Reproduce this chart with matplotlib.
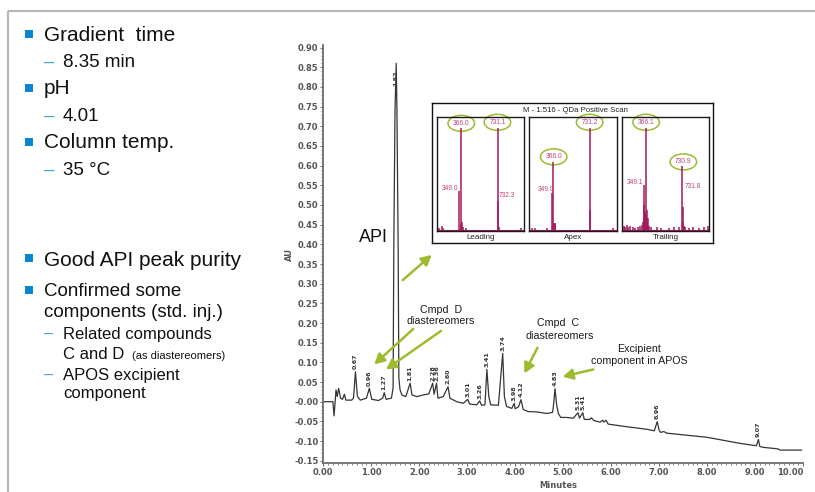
import numpy as np
import matplotlib
matplotlib.use("Agg")
import matplotlib.pyplot as plt
from matplotlib.patches import Rectangle, Ellipse

W, H, DPI = 815, 492, 100

# ---------------- chromatogram (UV trace) ----------------
trace_time = [0.00, 0.20, 0.225, 0.265, 0.29, 0.32, 0.36, 0.40, 0.44, 0.47, 0.59, 0.63,
              0.67, 0.71, 0.77, 0.90, 0.96, 1.01, 1.15, 1.24, 1.27, 1.31, 1.42, 1.455,
              1.47, 1.495, 1.52, 1.535, 1.56, 1.575, 1.60, 1.64, 1.72, 1.81, 1.85, 1.95,
              2.08, 2.20, 2.28, 2.31, 2.36, 2.39, 2.50, 2.60, 2.64, 2.78, 2.92, 3.01,
              3.05, 3.20, 3.26, 3.30, 3.37, 3.41, 3.45, 3.49, 3.65, 3.74, 3.775, 3.82,
              3.93, 3.98, 4.00, 4.07, 4.12, 4.17, 4.27, 4.45, 4.66, 4.78, 4.80, 4.83,
              4.865, 4.90, 4.95, 5.07, 5.21, 5.31, 5.34, 5.41, 5.44, 5.56, 5.59, 5.64,
              5.77, 5.82, 5.85, 5.89, 5.94, 6.32, 6.74, 6.90, 6.96, 7.00, 7.03, 7.10,
              7.16, 8.00, 8.69, 9.03, 9.07, 9.10, 9.17, 9.48, 9.52, 9.97]
trace_au = [0.000, 0.000, -0.036, 0.030, 0.013, 0.034, 0.009, 0.006, 0.019, 0.004, 0.004, 0.009,
            0.076, 0.014, 0.004, 0.009, 0.034, 0.006, 0.003, 0.009, 0.023, 0.006, 0.009, 0.035,
            0.400, 0.740, 0.860, 0.740, 0.400, 0.060, 0.030, 0.017, 0.013, 0.047, 0.017, 0.013,
            0.017, 0.020, 0.047, 0.019, 0.047, 0.009, 0.013, 0.038, 0.009, 0.000, -0.004, 0.006,
            -0.006, -0.008, 0.002, -0.009, -0.008, 0.082, 0.013, -0.008, -0.009, 0.123, 0.013, -0.012,
            -0.017, -0.004, -0.018, -0.013, 0.005, -0.020, -0.025, -0.026, -0.030, -0.027, -0.008, 0.033,
            -0.008, -0.030, -0.040, -0.040, -0.042, -0.028, -0.042, -0.028, -0.045, -0.045, -0.041, -0.048,
            -0.052, -0.047, -0.052, -0.047, -0.057, -0.0635, -0.070, -0.074, -0.051, -0.072, -0.078, -0.076,
            -0.080, -0.0905, -0.106, -0.112, -0.096, -0.114, -0.116, -0.120, -0.123, -0.123]

peak_rts = [0.67, 0.96, 1.27, 1.52, 1.81, 2.28, 2.36, 2.60, 3.01, 3.26, 3.41, 3.74,
            3.98, 4.12, 4.83, 5.31, 5.41, 6.96, 9.07]

y_ticks = [0.90, 0.85, 0.80, 0.75, 0.70, 0.65, 0.60, 0.55, 0.50, 0.45, 0.40, 0.35,
           0.30, 0.25, 0.20, 0.15, 0.10, 0.05, 0.00, -0.05, -0.10, -0.15]
y_tick_labels = ["0.90", "0.85", "0.80", "0.75", "0.70", "0.65", "0.60", "0.55", "0.50",
                 "0.45", "0.40", "0.35", "0.30", "0.25", "0.20", "0.15", "0.10", "0.05",
                 "-0.00", "-0.05", "-0.10", "-0.15"]
x_ticks = [0, 1, 2, 3, 4, 5, 6, 7, 8, 9, 10]
x_tick_labels = ["0.00", "1.00", "2.00", "3.00", "4.00", "5.00", "6.00", "7.00",
                 "8.00", "9.00", "10.00"]

# ---------------- QDa mass spectra across the API peak ----------------
scan_title = "M - 1.516 - QDa Positive Scan"
scan_names = ["Leading", "Apex", "Trailing"]

leading_mz = [150, 175, 183, 349.0, 366.0, 372, 381, 388, 420, 731.1, 732.3, 745, 965]
leading_int = [2, 4, 2, 38, 100, 6, 8, 3, 2, 100, 28.5, 3, 2]

apex_mz = [150, 180, 300, 349.0, 366.0, 372, 378, 384, 731.2, 733, 960]
apex_int = [1.5, 2, 1.5, 36, 67, 7, 7, 6, 100, 20, 2]

trailing_mz = [150, 160, 175, 190, 210, 235, 260, 290, 310, 330, 340, 345, 349.1, 352, 356,
               360, 366.1, 370, 375, 380, 386, 392, 400, 420, 480, 520, 600, 650, 700,
               730.9, 731.8, 736, 745, 760, 800, 840, 900, 950, 985]
trailing_int = [4, 3, 5, 3, 4, 3, 2, 3, 4, 5, 8, 12, 44, 25, 18,
                10, 100, 15, 20, 8, 12, 5, 4, 3, 3, 2, 2, 3, 3,
                63, 23, 8, 4, 3, 2, 3, 2, 3, 4]

# (text, m/z, intensity) : circled base-peak labels and plain side labels
leading_circled = [("366.0", 370, 105), ("731.1", 730, 106)]
leading_side = [("349.0", 341, 41, "right"), ("732.3", 746, 34, "left")]
apex_circled = [("366.0", 368, 72), ("731.2", 726, 106)]
apex_side = [("349.0", 376, 40, "right")]
trailing_circled = [("366.1", 368, 106), ("730.9", 739, 67)]
trailing_side = [("349.1", 341, 47, "right"), ("731.8", 750, 43, "left")]

# ---------------- slide text ----------------
top_items = ["Gradient  time", "8.35 min", "pH", "4.01", "Column temp.", "35 °C"]
bottom_items = ["Good API peak purity", "Confirmed some", "components (std. inj.)",
                "Related compounds", "C and D", "(as diastereomers)",
                "APOS excipient", "component"]

BLUE = "#0a86cc"
DASH_BLUE = "#45a6dc"
GREEN = "#9dbb2f"
SPEC = "#a3195b"
SPEC_LBL = "#c0447e"
AXIS_GRAY = "#6e6e6e"
LBL_GRAY = "#555555"
SANS = "Liberation Sans"

fig = plt.figure(figsize=(W / DPI, H / DPI), dpi=DPI, facecolor="white")

# full-figure layer in pixel units for the slide frame and bullet text
ov = fig.add_axes([0, 0, 1, 1])
ov.set_xlim(0, W)
ov.set_ylim(H, 0)
ov.axis("off")

ov.plot([8.2, W], [11, 11], color="#b5b5b5", lw=1.5, solid_capstyle="butt")
ov.plot([8.2, 8.2], [11, H], color="#b5b5b5", lw=1.5, solid_capstyle="butt")


def bullet(y_top, text, baseline, size):
    ov.add_patch(Rectangle((25, y_top), 8, 7.7, color=BLUE, lw=0))
    ov.text(44, baseline, text, fontsize=size, family=SANS, va="baseline", color="#111111")


def dash_item(text, baseline, size, dash=True):
    if dash:
        ov.text(43.5, baseline, "\u2013", fontsize=size, family=SANS, va="baseline",
                color=DASH_BLUE)
    ov.text(63, baseline, text, fontsize=size, family=SANS, va="baseline", color="#111111")


bullet(30, top_items[0], 41, 15)
dash_item(top_items[1], 66.7, 13.5)
bullet(84, top_items[2], 94.3, 15)
dash_item(top_items[3], 120.7, 13.5)
bullet(138, top_items[4], 148.3, 15)
dash_item(top_items[5], 175, 13.5)

bullet(254, bottom_items[0], 266, 15)
bullet(286, bottom_items[1], 296, 13.5)
ov.text(44, 317.3, bottom_items[2], fontsize=13.5, family=SANS, va="baseline", color="#111111")
dash_item(bottom_items[3], 339.3, 12)
dash_item(bottom_items[4], 359, 12, dash=False)
ov.text(132, 359, bottom_items[5], fontsize=8, family=SANS, va="baseline", color="#111111")
dash_item(bottom_items[6], 380, 12)
dash_item(bottom_items[7], 398.3, 12, dash=False)

# ---------------- chromatogram axes ----------------
ax = fig.add_axes([323.3 / W, 1 - 463.3 / H, (803 - 323.3) / W, (463.3 - 45) / H])
ax.set_facecolor("none")
ax.set_xlim(0, 10)
ax.set_ylim(-0.1566, 0.9067)
for side in ("top", "right"):
    ax.spines[side].set_visible(False)
for side in ("left", "bottom"):
    ax.spines[side].set_color(AXIS_GRAY)
    ax.spines[side].set_linewidth(1.3)

tick_font = dict(fontsize=6.0, fontweight="bold", color=LBL_GRAY, family="DejaVu Sans")
ax.set_yticks(y_ticks, labels=y_tick_labels, **tick_font)
ax.set_xticks(x_ticks, labels=x_tick_labels, **tick_font)
ax.yaxis.set_minor_locator(matplotlib.ticker.MultipleLocator(0.01))
ax.xaxis.set_minor_locator(matplotlib.ticker.MultipleLocator(0.1))
ax.tick_params(which="major", direction="out", length=2.4, width=0.8, color=AXIS_GRAY, pad=1)
ax.tick_params(which="minor", direction="out", length=1.4, width=0.6, color=AXIS_GRAY)
# keep the last time label inside the figure edge
ax.get_xticklabels()[-1].set_horizontalalignment("right")
ax.get_xticklabels()[-1].set_x(10.25)

ax.set_ylabel("AU", **tick_font)
ax.yaxis.set_label_coords(-0.062, 0.498)
ax.set_xlabel("Minutes", **tick_font)
ax.xaxis.set_label_coords(0.49, -0.043)

t = np.asarray(trace_time)
au = np.asarray(trace_au)
ax.plot(t, au, color="#353535", lw=0.9, solid_joinstyle="round")

for rt in peak_rts:
    near = np.abs(t - rt) <= 0.02
    apex = au[near].max()
    y = apex - 0.058 if apex > 0.5 else apex + 0.006
    ax.text(rt, y, f"{rt:.2f}", rotation=90, ha="center", va="bottom",
            fontsize=4.6, fontweight="bold", color="#333333", family="DejaVu Sans")

note_font = dict(fontsize=7.7, family=SANS, color="#1a1a1a", ha="center", va="baseline")
ax.text(0.744, 0.406, "API", fontsize=13, family=SANS, color="#111111", va="baseline")
ax.text(2.454, 0.2255, "Cmpd  D", **note_font)
ax.text(2.454, 0.1975, "diastereomers", **note_font)
ax.text(4.893, 0.1924, "Cmpd  C", **note_font)
ax.text(4.92, 0.1586, "diastereomers", **note_font)
ax.text(6.587, 0.127, "Excipient", **note_font)
ax.text(6.585, 0.095, "component in APOS", **note_font)

arrow_props = dict(arrowstyle="-|>,head_length=0.6,head_width=0.32", color=GREEN,
                   lw=1.8, mutation_scale=10, shrinkA=0, shrinkB=0)
for tail, tip in [((1.655, 0.309), (2.26, 0.373)),
                  ((1.876, 0.185), (1.063, 0.095)),
                  ((2.454, 0.180), (1.307, 0.082)),
                  ((4.465, 0.137), (4.19, 0.072)),
                  ((5.628, 0.082), (4.99, 0.0636))]:
    ax.annotate("", xy=tip, xytext=tail, arrowprops=arrow_props)

# ---------------- mass spectra inset ----------------
box = fig.add_axes([432.3 / W, 1 - 243 / H, 280.7 / W, 140 / H])
box.set_xticks([])
box.set_yticks([])
for s in box.spines.values():
    s.set_linewidth(1.0)
    s.set_color("#111111")
box.text(0.511, 0.95, scan_title, transform=box.transAxes, ha="center", va="center",
         fontsize=5.6, family=SANS, color="#222222")

MZ_LIM = (125, 995)
INT_LIM = (-1, 111.5)
PANEL_W, PANEL_H = 87.3, 114.3
mz_per_px = (MZ_LIM[1] - MZ_LIM[0]) / PANEL_W
int_per_px = (INT_LIM[1] - INT_LIM[0]) / PANEL_H

spectra = [(leading_mz, leading_int, leading_circled, leading_side),
           (apex_mz, apex_int, apex_circled, apex_side),
           (trailing_mz, trailing_int, trailing_circled, trailing_side)]

for left, name, (mz, inten, circled, side) in zip([436.7, 529.3, 621.7], scan_names, spectra):
    pax = fig.add_axes([left / W, 1 - 231 / H, PANEL_W / W, PANEL_H / H])
    pax.set_xlim(*MZ_LIM)
    pax.set_ylim(*INT_LIM)
    pax.set_xticks([])
    pax.set_yticks([])
    for s in pax.spines.values():
        s.set_linewidth(1.0)
        s.set_color("#1a1a1a")
    pax.axhline(0, color=SPEC, lw=0.8)
    pax.vlines(mz, 0, inten, color=SPEC, lw=1.1)
    for txt, x, y in circled:
        pax.text(x, y, txt, ha="center", va="center", fontsize=4.8, family=SANS,
                 color=SPEC_LBL)
        pax.add_patch(Ellipse((x, y), 26.5 * mz_per_px, 16 * int_per_px, fill=False,
                              ec=GREEN, lw=1.1, clip_on=False))
    for txt, x, y, ha in side:
        pax.text(x, y, txt, ha=ha, va="center", fontsize=4.8, family=SANS, color=SPEC_LBL)
    pax.text(0.5, -0.058, name, transform=pax.transAxes, ha="center", va="center",
             fontsize=5.8, family=SANS, color="#222222")

fig.savefig("out.png", dpi=DPI, facecolor="white")
